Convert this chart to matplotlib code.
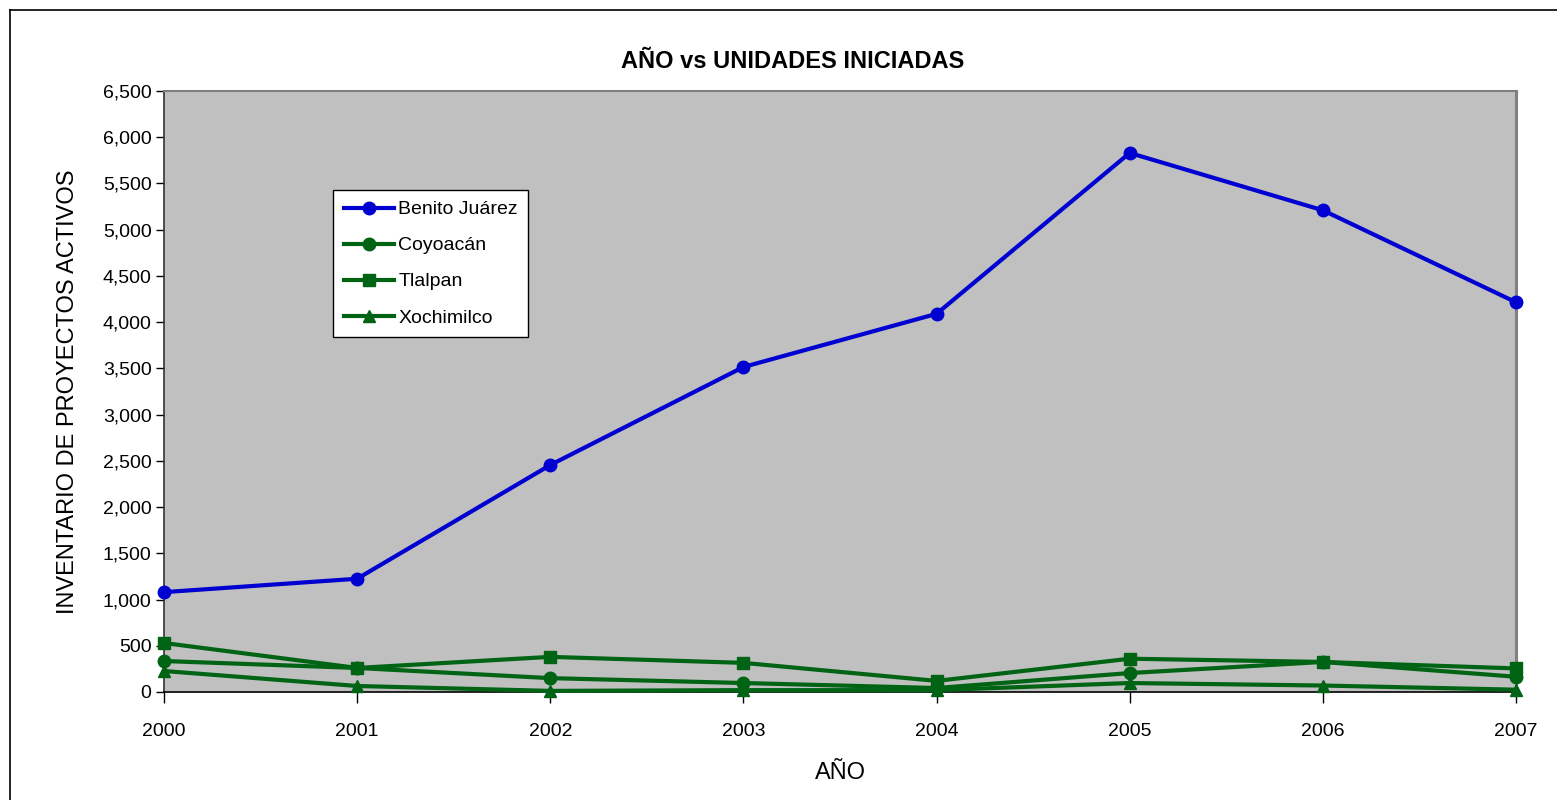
import matplotlib
matplotlib.use("Agg")
import matplotlib.pyplot as plt
from matplotlib.lines import Line2D
from matplotlib.ticker import FuncFormatter, MultipleLocator

years = [2000, 2001, 2002, 2003, 2004, 2005, 2006, 2007]
benito_juarez = [1080, 1225, 2455, 3515, 4090, 5830, 5210, 4215]
coyoacan = [335, 260, 150, 97, 43, 205, 325, 165]
tlalpan = [530, 260, 380, 315, 120, 360, 325, 255]
xochimilco = [227, 65, 12, 20, 20, 97, 70, 25]

series = [
    ("Benito Juárez", benito_juarez, "#0000D0", "o"),
    ("Coyoacán", coyoacan, "#006414", "o"),
    ("Tlalpan", tlalpan, "#006414", "s"),
    ("Xochimilco", xochimilco, "#006414", "^"),
]

plt.rcParams["font.family"] = ["Liberation Sans", "DejaVu Sans"]

W, H = 1557, 800
fig = plt.figure(figsize=(W / 100, H / 100), dpi=100)
fig.patch.set_facecolor("white")

# outer chart border (left and top edges)
fig.add_artist(Line2D((10 / W, 10 / W), (0, 1 - 10 / H), color="black", lw=1.2,
                      transform=fig.transFigure))
fig.add_artist(Line2D((10 / W, 1), (1 - 10 / H, 1 - 10 / H), color="black", lw=1.2,
                      transform=fig.transFigure))

left, right, top, bottom = 164, 1516, 91, 692
ax = fig.add_axes([left / W, 1 - bottom / H, (right - left) / W, (bottom - top) / H])
ax.set_facecolor("#C0C0C0")

x = list(range(len(years)))
for name, vals, color, marker in series:
    ax.plot(x, vals, color=color, lw=3.0, marker=marker, markersize=9,
            markeredgecolor=color, markerfacecolor=color, label=name, clip_on=False,
            zorder=3)

ax.set_xlim(0, len(years) - 1)
ax.set_ylim(0, 6500)
ax.yaxis.set_major_locator(MultipleLocator(500))
ax.yaxis.set_major_formatter(FuncFormatter(lambda v, p: f"{int(v):,}"))
ax.set_xticks(x)
ax.set_xticklabels([str(y) for y in years])

ax.tick_params(axis="y", direction="out", length=6, width=1, labelsize=14, pad=3)
ax.tick_params(axis="x", direction="out", length=8, width=1, labelsize=14, pad=14)

ax.spines["left"].set_color("#333333")
ax.spines["left"].set_linewidth(1.2)
ax.spines["bottom"].set_color("black")
ax.spines["bottom"].set_linewidth(1.2)
ax.spines["top"].set_color("#808080")
ax.spines["top"].set_linewidth(1.5)
ax.spines["right"].set_color("#808080")
ax.spines["right"].set_linewidth(2.2)

fig.text(793 / W, 1 - 61 / H, "AÑO vs UNIDADES INICIADAS", fontsize=17,
         fontweight="bold", ha="center", va="center")
ax.set_xlabel("AÑO", fontsize=17, labelpad=16)
ax.set_ylabel("INVENTARIO DE PROYECTOS ACTIVOS", fontsize=17, labelpad=17)

leg = ax.legend(loc="upper left",
                bbox_to_anchor=((333 - left) / (right - left), 1 - (190 - top) / (bottom - top)),
                fontsize=14, frameon=True, fancybox=False, edgecolor="black",
                framealpha=1.0, handlelength=2.6, handletextpad=0.2, borderpad=0.55,
                labelspacing=0.95, borderaxespad=0)
leg.get_frame().set_linewidth(1.0)
leg.get_frame().set_facecolor("white")

fig.savefig("out.png", dpi=100, facecolor="white")
